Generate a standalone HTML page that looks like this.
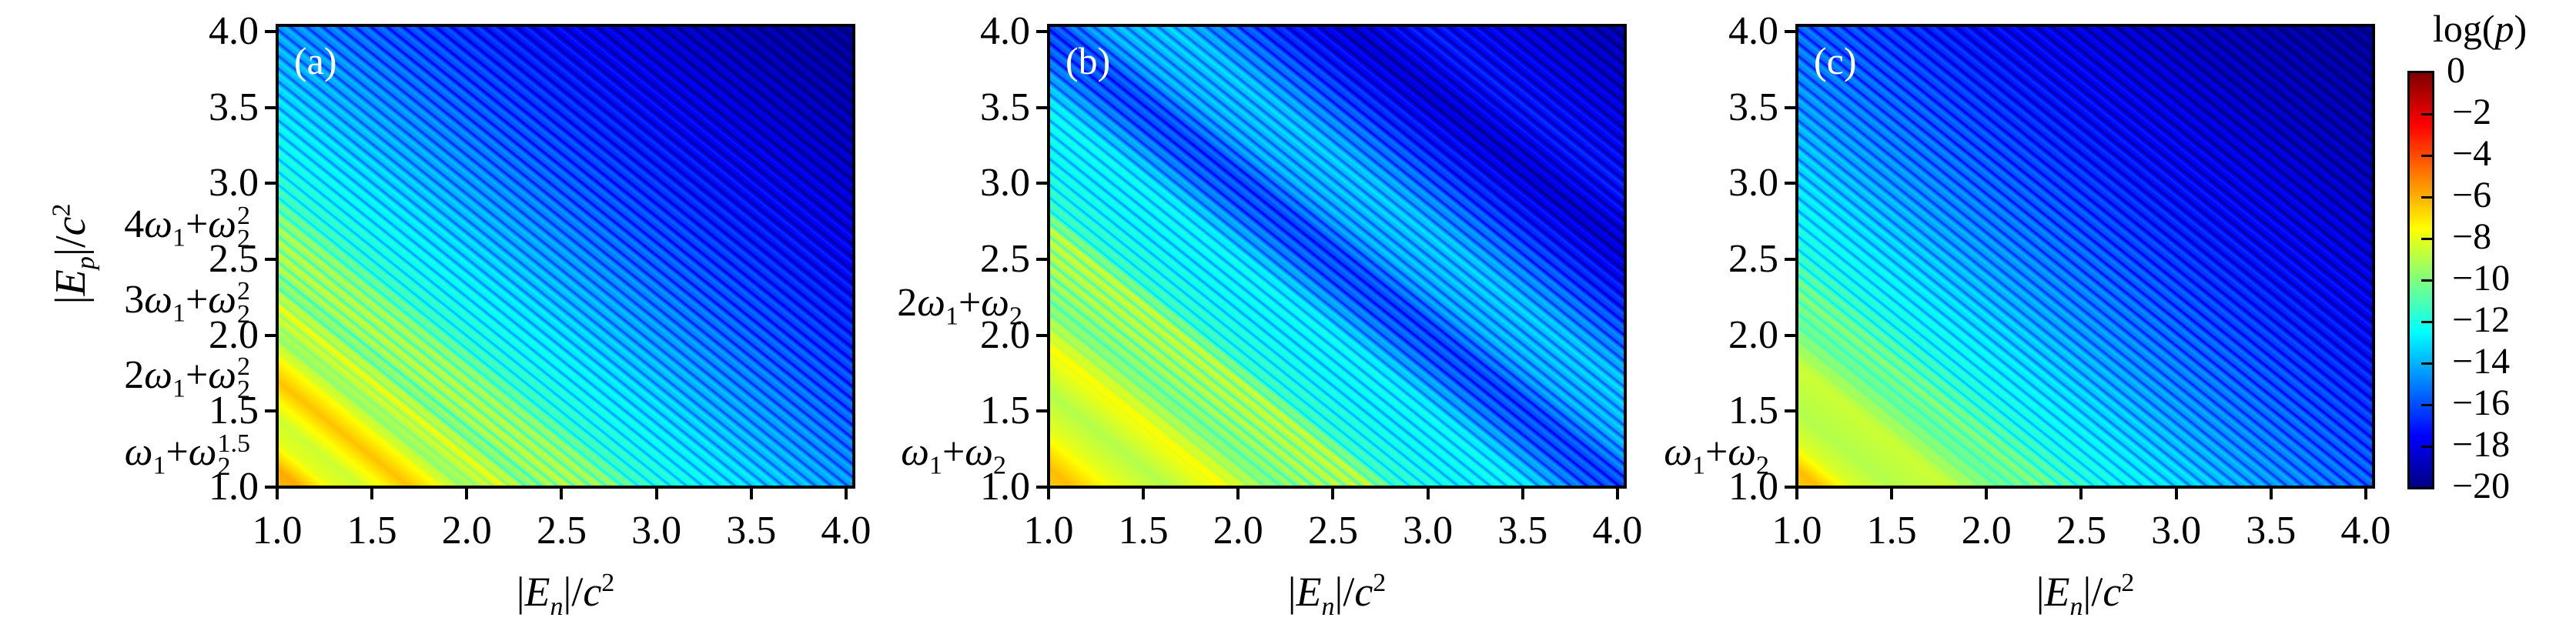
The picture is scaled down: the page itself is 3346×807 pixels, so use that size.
<!DOCTYPE html>
<html><head><meta charset="utf-8">
<style>
body{margin:0;background:#fff;width:3346px;height:807px;overflow:hidden;position:relative;font-family:"Liberation Serif",serif;color:#000}
.abs{position:absolute;white-space:nowrap}
canvas{position:absolute}
.frame{position:absolute;border:4px solid #000;box-sizing:border-box}
.tk{position:absolute;background:#000}
.tl{position:absolute;font-size:52px;line-height:1}
.ann{position:absolute;font-size:52px;line-height:1;white-space:nowrap}
i{font-style:italic}
sub,sup{font-size:34px;line-height:0}
.ss{display:inline-flex;flex-direction:column;vertical-align:middle;font-size:34px;line-height:30px;margin-left:1px}
.plabel{position:absolute;color:#fff;font-size:50px;line-height:1}
</style></head><body>
<div id="root"></div>
<div class="abs" style="left:92px;top:330px;font-size:56px;transform:translate(-50%,-50%) rotate(-90deg)">|<i>E<sub>p</sub></i>|/<i>c</i><sup>2</sup></div>
<div class="ann" style="right:3021px;top:266px">4<i>ω</i><sub>1</sub>+<i>ω</i><span class="ss"><span>2</span><span>2</span></span></div>
<div class="ann" style="right:3021px;top:364px">3<i>ω</i><sub>1</sub>+<i>ω</i><span class="ss"><span>2</span><span>2</span></span></div>
<div class="ann" style="right:3021px;top:462px">2<i>ω</i><sub>1</sub>+<i>ω</i><span class="ss"><span>2</span><span>2</span></span></div>
<div class="ann" style="right:3021px;top:562px"><i>ω</i><sub>1</sub>+<i>ω</i><span class="ss"><span>1.5</span><span>2</span></span></div>
<div class="ann" style="right:2018px;top:368px">2<i>ω</i><sub>1</sub>+<i>ω</i><sub>2</sub></div>
<div class="ann" style="right:2039px;top:562px"><i>ω</i><sub>1</sub>+<i>ω</i><sub>2</sub></div>
<div class="ann" style="right:1048px;top:562px"><i>ω</i><sub>1</sub>+<i>ω</i><sub>2</sub></div>
<div class="abs" style="left:3160px;top:8px;font-size:50px">log(<i>p</i>)</div>
<script>
// ---- data ----
const xTicks = [1.0, 1.5, 2.0, 2.5, 3.0, 3.5, 4.0];
const yTicks = [1.0, 1.5, 2.0, 2.5, 3.0, 3.5, 4.0];
const cbTicks = [0, -2, -4, -6, -8, -10, -12, -14, -16, -18, -20];
const cbTickLabels = ["0", "−2", "−4", "−6", "−8", "−10", "−12", "−14", "−16", "−18", "−20"];
const panelNames = ["a", "b", "c"];
// profile of log(p) along s = (|En|-1)+(|Ep|-1)
const sA = [0, 0.12, 0.3, 0.45, 0.7, 0.85, 1.0, 1.2, 1.35, 1.5, 1.75, 1.95, 2.2, 2.5, 2.8, 3.1, 3.5, 4.0, 4.5, 5.0, 5.5, 6.0];
const vA = [-6.2, -5.8, -8, -8.5, -6.3, -7.5, -9.5, -8, -10, -9, -9.5, -11.5, -12.3, -13, -13.8, -14.5, -15.5, -16.5, -17.5, -18.3, -19, -19.5];
const sB = [0, 0.13, 0.38, 0.63, 0.92, 1.2, 1.45, 1.7, 1.85, 2.2, 2.5, 2.85, 3.05, 3.3, 3.7, 4.2, 4.6, 5.0, 5.5, 6.0];
const vB = [-6.5, -6.2, -8, -9, -7.5, -10, -9.2, -8.8, -11.5, -12.5, -12.5, -15.5, -16, -14, -13.5, -16.5, -18.3, -17, -18, -19];
const sC = [0, 0.12, 0.3, 0.5, 0.8, 1.1, 1.3, 1.6, 2.0, 2.5, 3.0, 3.5, 4.0, 4.5, 5.0, 6.0];
const vC = [-6.5, -6.2, -8.2, -9, -8.5, -10.5, -10, -12, -13, -14.3, -15.3, -16.3, -17.3, -18, -18.7, -19.5];

// ---- layout ----
const panels = [{left:360, s:sA, v:vA}, {left:1362, s:sB, v:vB}, {left:2334, s:sC, v:vC}];
const PW = 749, TOP = 33, BOT = 633;
const xPerUnit = 246.3, yPerUnit = 197.3;
function xScale(p, d){ return p.left + (d - 1) * xPerUnit; }
function yScale(d){ return BOT - (d - 1) * yPerUnit; }
function jet(t){
  const c = x => Math.max(0, Math.min(1, x));
  return [c(1.5 - Math.abs(4*t - 3)), c(1.5 - Math.abs(4*t - 2)), c(1.5 - Math.abs(4*t - 1))];
}
function interp(ss, vv, s){
  if (s <= ss[0]) return vv[0];
  for (let i = 1; i < ss.length; i++) if (s <= ss[i]) { const f = (s - ss[i-1])/(ss[i]-ss[i-1]); return vv[i-1] + f*(vv[i]-vv[i-1]); }
  return vv[vv.length-1];
}
function mk(tag){
  const el = document.createElement(tag);
  document.body.appendChild(el);
  return el;
}
panels.forEach((p, k) => {
  const nm = panelNames[k];
  const cv = mk('canvas');
  
  
  cv.width = PW; cv.height = BOT - TOP;
  cv.style.left = p.left + 'px'; cv.style.top = TOP + 'px';
  const ctx = cv.getContext('2d');
  const img = ctx.createImageData(cv.width, cv.height);
  for (let py = 0; py < cv.height; py++) {
    const dy = 1 + (BOT - (TOP + py)) / yPerUnit;
    for (let px = 0; px < cv.width; px++) {
      const dx = 1 + px / xPerUnit;
      const s = (dx - 1) + (dy - 1);
      let val = interp(p.s, p.v, s);
      // fine hairline texture
      const fr = (s / 0.085) % 1;
      const w = Math.max(0, Math.min(1, (s - 0.8) / 0.6));
      val -= 2.2 * w * Math.exp(-Math.pow((fr - 0.5) / 0.13, 2));
      val += 0.8 * w * Math.exp(-Math.pow((fr - 0.05) / 0.12, 2));
      const c = jet(Math.max(0, (val + 20) / 20));
      const o = (py * cv.width + px) * 4;
      img.data[o] = c[0]*255; img.data[o+1] = c[1]*255; img.data[o+2] = c[2]*255; img.data[o+3] = 255;
    }
  }
  ctx.putImageData(img, 0, 0);
  const fr = mk('div');
  
  
  fr.className = 'frame';
  fr.style.cssText = `left:${p.left-2}px;top:${TOP-2}px;width:${PW+4}px;height:${BOT-TOP+4}px`;
  const pl = mk('div');
  
  
  pl.className = 'plabel';
  pl.textContent = '(' + nm + ')';
  pl.style.left = (p.left + 22) + 'px'; pl.style.top = '54px';
  xTicks.forEach(t => {
    const x = xScale(p, t);
    const tk = mk('div');
    
    
    tk.className = 'tk';
    tk.style.cssText = `left:${x-2}px;top:${BOT}px;width:4px;height:16px`;
    const lb = mk('div');
    
    
    lb.className = 'tl';
    lb.textContent = t.toFixed(1);
    lb.style.cssText = `left:${x}px;top:664px;transform:translateX(-50%)`;
  });
  yTicks.forEach(t => {
    const y = yScale(t);
    const tk = mk('div');
    
    
    tk.className = 'tk';
    tk.style.cssText = `left:${p.left-16}px;top:${y-2}px;width:16px;height:4px`;
    const lb = mk('div');
    
    
    lb.className = 'tl';
    lb.textContent = t.toFixed(1);
    lb.style.cssText = `right:${3346-(p.left-24)}px;top:${y-26}px`;
  });
  const xt = mk('div');
  
  
  xt.className = 'abs';
  xt.innerHTML = '|<i>E<sub>n</sub></i>|/<i>c</i><sup>2</sup>';
  xt.style.cssText = `left:${p.left+PW/2}px;top:738px;font-size:54px;transform:translateX(-50%)`;
});
// colorbar
const CBL = 3129, CBW = 31, CBT = 94, CBB = 634;
function cbScale(v){ return CBT + (0 - v) / 20 * (CBB - CBT); }
const cb = mk('canvas');


cb.width = CBW; cb.height = CBB - CBT;
cb.style.left = CBL + 'px'; cb.style.top = CBT + 'px';
const cctx = cb.getContext('2d');
for (let y = 0; y < cb.height; y++) {
  const c = jet(1 - y / cb.height);
  cctx.fillStyle = `rgb(${c[0]*255|0},${c[1]*255|0},${c[2]*255|0})`;
  cctx.fillRect(0, y, CBW, 1);
}
const cbf = mk('div');


cbf.className = 'frame';
cbf.style.cssText = `left:${CBL-2}px;top:${CBT-2}px;width:${CBW+4}px;height:${CBB-CBT+4}px;border-width:3px`;
cbTicks.forEach((v, i) => {
  const y = cbScale(v);
  if (i > 0 && i < cbTicks.length - 1) {
    const tk = mk('div');
    
    
    tk.className = 'tk';
    tk.style.cssText = `left:${CBL+CBW-15}px;top:${y-1.5}px;width:15px;height:3px`;
  }
  const lb = mk('div');
  
  
  lb.className = 'tl';
  lb.textContent = cbTickLabels[i];
  lb.style.cssText = `left:${i === 0 ? 3178 : 3185}px;top:${y-26}px;font-size:48px`;
});
</script>
</body></html>
